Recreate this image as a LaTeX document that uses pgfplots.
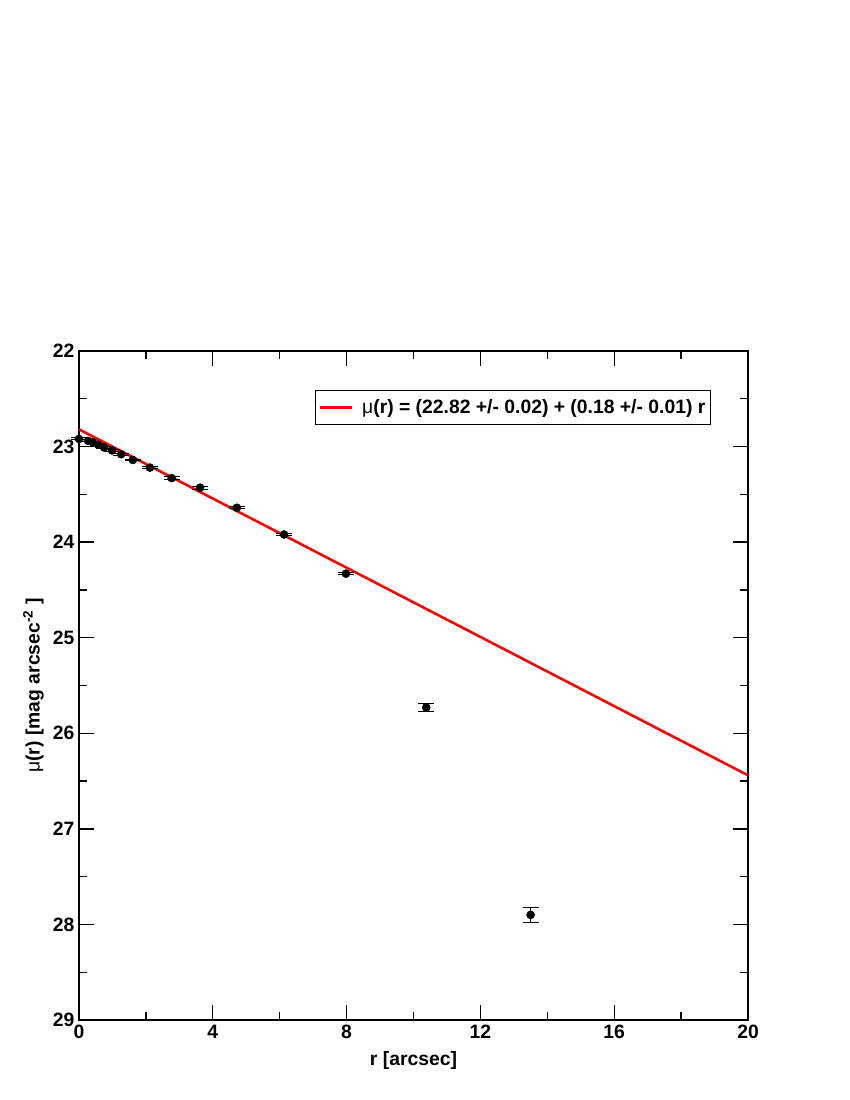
\documentclass[border=0pt]{standalone}
\usepackage{fontspec}
\setmainfont{Liberation Sans}
\usepackage{pgfplots}
\pgfplotsset{compat=1.18}
\begin{document}
\begin{tikzpicture}
\path[use as bounding box] (-59.25bp,-60bp) rectangle (578.25bp,765bp);
\begin{axis}[
  at={(0,0)}, anchor=south west,
  scale only axis, width=501.75bp, height=501.75bp,
  xmin=0, xmax=20, ymin=22, ymax=29, y dir=reverse,
  xtick={0,4,...,20}, minor x tick num=1,
  ytick={22,23,...,29}, minor y tick num=1,
  tick align=inside, major tick length=11bp, minor tick length=6bp,
  axis line style={line width=1.5bp},
  every tick/.style={black, line width=1bp},
  ticklabel style={font=\fontsize{14.5bp}{17bp}\selectfont\bfseries},
  /pgf/number format/assume math mode=true,
  xlabel={r [arcsec]},
  ylabel={{\mdseries μ}(r) [mag arcsec\textsuperscript{-2} ]},
  label style={font=\fontsize{14.5bp}{17bp}\selectfont\bfseries},
  xlabel style={yshift=-3bp},
  ylabel style={yshift=0bp},
  clip=false,
  legend style={at={(0.945,0.942)}, anchor=north east, draw=black, line width=0.75bp,
    font=\fontsize{14.5bp}{17bp}\selectfont\bfseries, inner xsep=2bp, inner ysep=5bp},
  legend image code/.code={\draw[#1] (0bp,0bp) -- (24bp,0bp);},
]
\addplot[red, line width=1.9bp] coordinates {(0,22.82) (20,26.44)};
\addlegendentry{\hspace{5bp}{\mdseries μ}(r) = (22.82 +/- 0.02) + (0.18 +/- 0.01) r}
\addplot[only marks, mark=*, mark size=3bp, black,
  error bars/.cd, y dir=both, y explicit, error mark=|,
  error bar style={line width=0.75bp, black},
  error mark options={mark size=6bp, line width=0.75bp, black}]
  table[x=r, y=mu, y error=e] {
r mu e
0 22.92 0.01
0.27 22.94 0.01
0.42 22.955 0.01
0.57 22.98 0.01
0.75 23.01 0.01
0.99 23.04 0.01
1.26 23.08 0.01
1.61 23.14 0.01
2.12 23.22 0.01
2.77 23.33 0.015
3.62 23.43 0.015
4.72 23.64 0.01
6.13 23.92 0.01
7.98 24.33 0.01
10.38 25.73 0.04
13.50 27.90 0.075
};
\end{axis}
\end{tikzpicture}
\end{document}
